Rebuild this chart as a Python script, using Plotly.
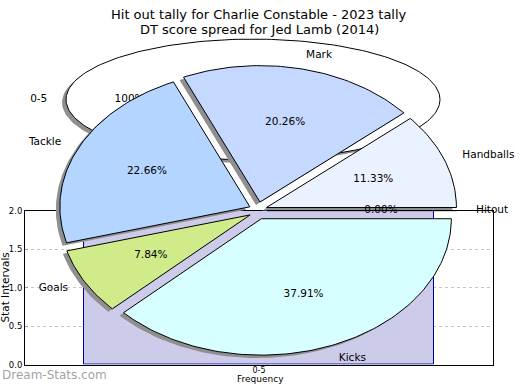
import numpy as np
import plotly.graph_objects as go

W, H = 520, 390

# ---------------- data ----------------
title_lines = ["Hit out tally for Charlie Constable - 2023 tally",
               "DT score spread for Jed Lamb (2014)"]

bar_categories = ["0-5"]
bar_values = [2.0]

ring_labels = ["0-5"]
ring_values = [1]

pie_labels = ["Kicks", "Goals", "Tackle", "Mark", "Handballs", "Hitout"]
pie_values = [37.91, 7.84, 22.66, 20.26, 11.33, 0.00]
pie_colors = ["#d8ffff", "#d0eb8a", "#b3d5ff", "#c5d8ff", "#eaf1ff", "#ffffff"]

# ---------------- layout params (pixels) ----------------
FONT = "DejaVu Sans"
CX, CY, RX, RY = 258, 211, 190, 140      # main pie
EXPLODE = 9
SH_DX, SH_DY = -4, 3
SHADOW_COL = "#8f8f8f"
ECX, ECY, ERX, ERY = 253, 97, 187, 62    # back ellipse pie

fig = go.Figure()

# ---------------- bar chart ----------------
fig.add_trace(go.Bar(
    x=bar_categories, y=bar_values, width=0.748,
    marker=dict(color="#ccccea", line=dict(color="#0000a0", width=1)),
    hoverinfo="skip", xaxis="x", yaxis="y"))


def ell_pts(cx, cy, rx, ry, a0, a1, n):
    t = np.linspace(a0, a1, n)
    return cx + rx * np.cos(t), cy - ry * np.sin(t)


def add_poly(xs, ys, fill, line_col=None, lw=0):
    fig.add_trace(go.Scatter(
        x=list(xs), y=list(ys), mode="lines", fill="toself", fillcolor=fill,
        line=dict(color=line_col if line_col else fill, width=lw),
        hoverinfo="skip", xaxis="x2", yaxis="y2"))


def add_text(x, y, txt, pos, size):
    fig.add_trace(go.Scatter(
        x=[x], y=[y], mode="text", text=[txt], textposition=pos,
        textfont=dict(family=FONT, size=size, color="black"),
        hoverinfo="skip", xaxis="x2", yaxis="y2"))


# ---------------- back ellipse pie ----------------
ring_total = sum(ring_values)
ang = 0.0
for lab, v in zip(ring_labels, ring_values):
    span = 2 * np.pi * v / ring_total
    ex, ey = ell_pts(ECX, ECY, ERX, ERY, ang, ang + span, 240)
    add_poly(ex + SH_DX, ey + SH_DY, SHADOW_COL)
    add_poly(ex, ey, "white", "black", 1)
    mid = ang + span / 2
    add_text(ECX + ERX * 1.1 * np.cos(mid), ECY - ERY * 1.1 * np.sin(mid), lab,
             "middle left" if np.cos(mid) < 0 else "middle right", 10.5)
    add_text(ECX + ERX * 0.66 * np.cos(mid), ECY - ERY * 0.66 * np.sin(mid),
             f"{v / ring_total * 100:.0f}%", "middle center", 10.5)
    ang += span

# ---------------- main exploded pie ----------------
total = sum(pie_values)
slices = []
ang = 0.0
for lab, v, col in zip(pie_labels, pie_values, pie_colors):
    span = 2 * np.pi * v / total
    a0, a1 = ang, ang - span           # clockwise from 3 o'clock
    mid = (a0 + a1) / 2
    ox = CX + EXPLODE * np.cos(mid)
    oy = CY - EXPLODE * np.sin(mid)
    n = max(2, int(abs(span) / (2 * np.pi) * 300) + 2)
    px, py = ell_pts(ox, oy, RX, RY, a0, a1, n)
    xs = np.concatenate([[ox], px, [ox]])
    ys = np.concatenate([[oy], py, [oy]])
    slices.append((lab, v, col, mid, ox, oy, xs, ys))
    ang = a1

for s in slices:
    add_poly(s[6] + SH_DX, s[7] + SH_DY, SHADOW_COL)
for s in slices:
    add_poly(s[6], s[7], s[2], "black", 1)
for lab, v, col, mid, ox, oy, xs, ys in slices:
    add_text(ox + RX * 0.6 * np.cos(mid), oy - RY * 0.6 * np.sin(mid),
             f"{v / total * 100:.2f}%", "middle center", 10.5)
    add_text(ox + RX * 1.1 * np.cos(mid), oy - RY * 1.1 * np.sin(mid), lab,
             "middle right" if np.cos(mid) >= -1e-9 else "middle left", 10.5)

# ---------------- layout ----------------
fig.update_layout(
    width=W, height=H, margin=dict(l=0, r=0, t=0, b=0),
    paper_bgcolor="white", plot_bgcolor="rgba(0,0,0,0)",
    showlegend=False, bargap=0,
    font=dict(family=FONT, color="black"),
    xaxis=dict(domain=[25 / W, 493 / W], range=[-0.5, 0.5], anchor="y",
               showline=True, mirror=True, linecolor="black", linewidth=1,
               showgrid=False, ticks="", ticklabelstandoff=-2,
               tickfont=dict(size=8, family=FONT), fixedrange=True),
    yaxis=dict(domain=[21 / H, 179 / H], range=[0, 2], anchor="x",
               dtick=0.5, tickformat=".1f", showline=True, mirror=True,
               linecolor="black", linewidth=1, showgrid=True,
               gridcolor="#c4c4c4", griddash="dot", gridwidth=1,
               ticks="inside", ticklen=3, tickcolor="#999999",
               tickfont=dict(size=8.5, family=FONT), zeroline=False,
               fixedrange=True),
    xaxis2=dict(domain=[0, 1], range=[0, W], anchor="y2", visible=False,
                fixedrange=True),
    yaxis2=dict(domain=[0, 1], range=[H, 0], anchor="x2", visible=False,
                fixedrange=True),
    annotations=[
        dict(text=title_lines[0], xref="paper", yref="paper",
             x=259 / W, y=(H - 10) / H, xanchor="center", yanchor="middle",
             showarrow=False, font=dict(family=FONT, size=13, color="black")),
        dict(text=title_lines[1], xref="paper", yref="paper",
             x=259 / W, y=(H - 25) / H, xanchor="center", yanchor="middle",
             showarrow=False, font=dict(family=FONT, size=13, color="black")),
        dict(text="Stat Intervals", textangle=-90, xref="paper", yref="paper",
             x=5 / W, y=(H - 290) / H, xanchor="center", yanchor="middle",
             showarrow=False, font=dict(family=FONT, size=10.5, color="black")),
        dict(text="Frequency", xref="paper", yref="paper",
             x=260 / W, y=0, xanchor="center", yanchor="bottom", borderpad=0,
             showarrow=False, font=dict(family=FONT, size=9, color="black")),
        dict(text="Dream-Stats.com", xref="paper", yref="paper",
             x=0, y=(H - 380) / H, xanchor="left", yanchor="middle",
             showarrow=False,
             font=dict(family=FONT, size=12, color="rgba(130,130,130,0.75)")),
    ],
)

fig.write_html("out.html",
               config={"displayModeBar": False},
               post_script="document.body.style.margin='0';"
                           "document.body.style.overflow='hidden';")
